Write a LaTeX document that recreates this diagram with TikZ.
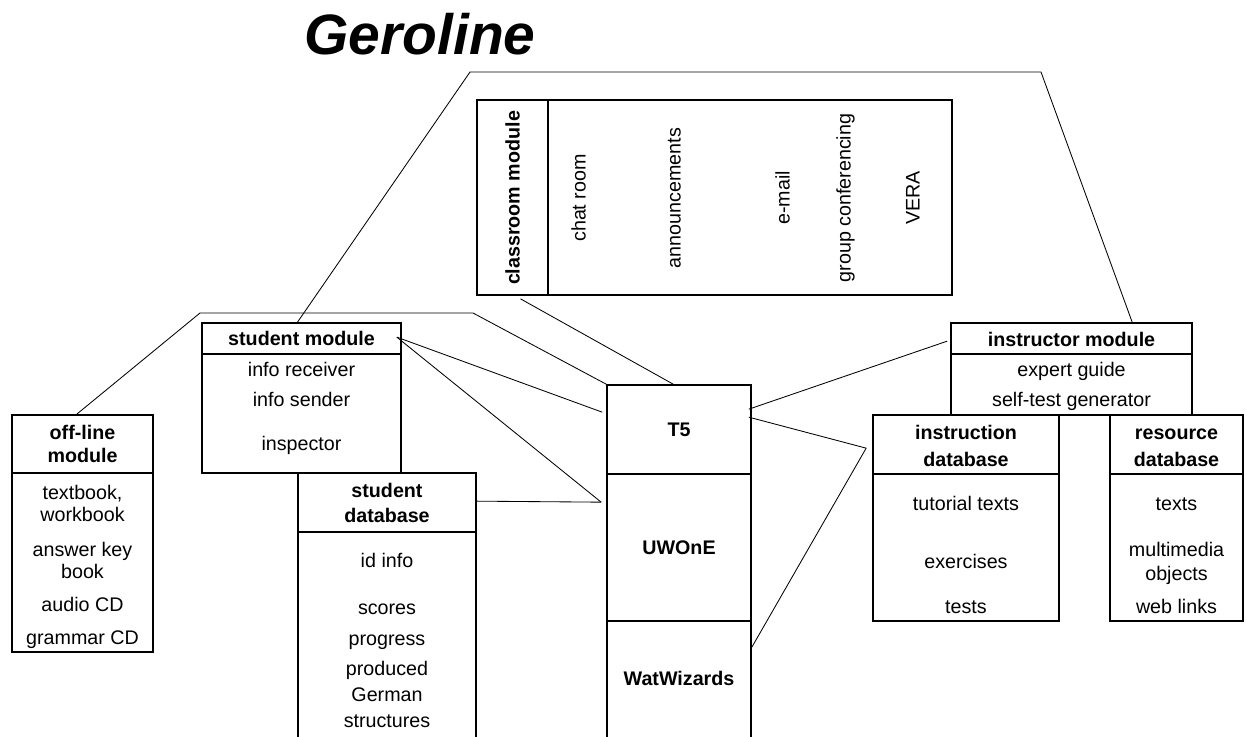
\documentclass[tikz,border=0pt]{standalone}
\usepackage{fontspec}
\setmainfont{Liberation Sans}
\usetikzlibrary{calc,fit}

\tikzset{
  frame/.style={draw, line width=1.2pt, inner sep=0pt},
  split/.style={line width=1.2pt},
  link/.style={line width=0.6pt},
  txt/.style={font=\fontsize{14}{17}\selectfont, inner sep=0pt, text height=12pt, text depth=1pt},
  head/.style={txt, font=\fontsize{14}{17}\selectfont\bfseries},
}

\begin{document}
\begin{tikzpicture}[x=0.025cm, y=-0.025cm]
    \useasboundingbox (0,0) rectangle (1247,736);

    \node[font=\fontsize{40.5}{48}\selectfont\bfseries\itshape, anchor=base, inner sep=0pt] (title) at (420,55) {Geroline};

    % boxes
    \node[frame, fit={(477,100) (952,295)}] (classroom) {};
    \node[frame, fit={(12,415) (153,652)}] (offmod) {};
    \node[frame, fit={(202,323) (401,473)}] (stumod) {};
    \node[frame, fit={(298,473) (476,745)}] (studb) {};
    \node[frame, fit={(607,385) (751,474)}] (t5) {};
    \node[frame, fit={(607,474) (751,621)}] (uwone) {};
    \node[frame, fit={(607,621) (751,745)}] (watw) {};
    \node[frame, fit={(951,323) (1192,415)}] (insmod) {};
    \node[frame, fit={(873,415) (1059,621)}] (indb) {};
    \node[frame, fit={(1110,415) (1243,621)}] (resdb) {};

    \draw[split] (548,100) -- (548,295);
    \draw[split] (12,473) -- (153,473);
    \draw[split] (202,354) -- (401,354);
    \draw[split] (298,532) -- (476,532);
    \draw[split] (951,354) -- (1192,354);
    \draw[split] (873,474) -- (1059,474);
    \draw[split] (1110,474) -- (1243,474);

    % classroom module
    \node[head, rotate=90] (crh) at (512,198) {classroom module};
    \foreach \t/\x [count=\i] in {chat room/578, announcements/673, e-mail/782, group conferencing/843, VERA/912}
        \node[txt, rotate=90] (cr\i) at (\x,198) {\t};

    % off-line module
    \node[head] (offh1) at (82.5,432) {off-line};
    \node[head] (offh2) at (82.5,455) {module};
    \foreach \t/\y [count=\i] in {{textbook,}/492, workbook/514, answer key/549, book/571, audio CD/604, grammar CD/637}
        \node[txt] (off\i) at (82.5,\y) {\t};

    % student module and database
    \node[head] (stuh) at (301.5,338) {student module};
    \foreach \t/\y [count=\i] in {info receiver/369, info sender/399, inspector/443}
        \node[txt] (stu\i) at (301.5,\y) {\t};
    \node[head] (sdbh1) at (387,490) {student};
    \node[head] (sdbh2) at (387,515) {database};
    \foreach \t/\y [count=\i] in {id info/560, scores/607, progress/638, produced/668, German/694, structures/720}
        \node[txt] (sdb\i) at (387,\y) {\t};

    % central stack
    \node[head] (t5h) at (679,429) {T5};
    \node[head] (uwoneh) at (679,547) {UWOnE};
    \node[head] (watwh) at (679,678) {WatWizards};

    % instructor side
    \node[head] (insh) at (1071.5,339) {instructor module};
    \foreach \t/\y [count=\i] in {expert guide/369, self-test generator/399}
        \node[txt] (ins\i) at (1071.5,\y) {\t};
    \node[head] (idbh1) at (966,432) {instruction};
    \node[head] (idbh2) at (966,459) {database};
    \foreach \t/\y [count=\i] in {tutorial texts/503, exercises/561, tests/606}
        \node[txt] (idb\i) at (966,\y) {\t};
    \node[head] (rdbh1) at (1176.5,432) {resource};
    \node[head] (rdbh2) at (1176.5,459) {database};
    \foreach \t/\y [count=\i] in {texts/503, multimedia/549, objects/573, web links/606}
        \node[txt] (rdb\i) at (1176.5,\y) {\t};

    % connectors
    \coordinate (topL) at (470,72);
    \coordinate (topR) at (1041,72);
    \coordinate (midL) at (200,313);
    \coordinate (midR) at (473,313);
    \coordinate (stuout) at ($(stumod.north east)+(-5,15)$);
    \coordinate (uwin) at ($(uwone.north west)+(-5,29)$);
    \coordinate (t5out) at ($(t5.north east)+(-3,25)$);
    \coordinate (idbin) at ($(indb.north west)+(-6,34)$);

    \draw[link] ($(stumod.north west)!0.48!(stumod.north east)$) -- (topL) -- (topR) -- ($(insmod.north west)!0.75!(insmod.north east)$);
    \draw[link] ($(offmod.north west)!0.46!(offmod.north east)$) -- (midL) -- (midR) -- (t5.north west);
    \draw[link] ($(classroom.south west)!0.093!(classroom.south east)+(0,3)$) -- ($(t5.north west)!0.46!(t5.north east)$);
    \draw[link] (stuout) -- ($(t5.north west)+(-4,28)$);
    \draw[link] (stuout) -- (uwin);
    \draw[link] ($(studb.north east)+(0,29)$) -- (uwin);
    \draw[link] (t5out) -- ($(insmod.north west)+(-3,19)$);
    \draw[link] ($(t5out)+(0,8)$) -- (idbin);
    \draw[link] (idbin) -- ($(watw.north east)+(0,27)$);
\end{tikzpicture}
\end{document}
